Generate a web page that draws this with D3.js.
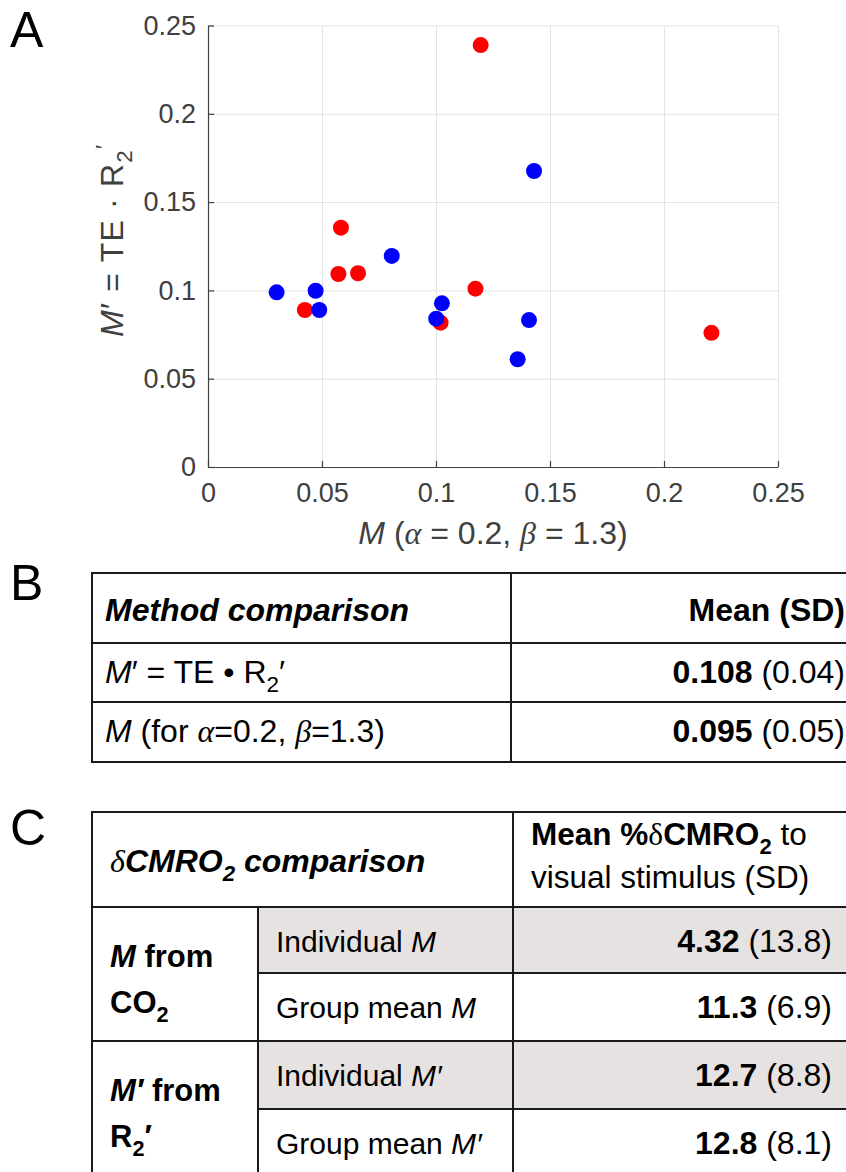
<!DOCTYPE html>
<html>
<head>
<meta charset="utf-8">
<script src="https://cdn.jsdelivr.net/npm/d3@7"></script>
<style>
  body { margin: 0; background: #fff; }
  svg { display: block; font-family: "Liberation Sans", Arial, Helvetica, sans-serif; }
  .grid line { stroke: #e3e3e3; stroke-width: 1; }
  .grid path { display: none; }
  .axis path, .axis line { stroke: #404040; stroke-width: 1.2; }
  .axis text { fill: #404040; font-size: 27px; }
  .tbl line { stroke: #1a1a1a; stroke-width: 2; }
</style>
</head>
<body>
<svg width="846" height="1172"></svg>
<script>
// scatter data, panel A
const mRed = [0.0425, 0.0572, 0.0583, 0.0658, 0.1020, 0.1173, 0.1196, 0.2208]
const mPrimeRed = [0.0889, 0.1093, 0.1355, 0.1097, 0.0817, 0.1010, 0.2389, 0.0760]
const mBlue = [0.0301, 0.0472, 0.0488, 0.0806, 0.1001, 0.1026, 0.1358, 0.1408, 0.1430]
const mPrimeBlue = [0.0989, 0.0998, 0.0889, 0.1195, 0.0840, 0.0927, 0.0610, 0.0832, 0.1676]
const xTicks = [0, 0.05, 0.1, 0.15, 0.2, 0.25]
const yTicks = [0, 0.05, 0.1, 0.15, 0.2, 0.25]

// table B
const methodLabels = ["mprime", "m"]
const methodMeans = ["0.108", "0.095"]
const methodSDs = ["0.04", "0.05"]

// table C
const cmroGroups = ["co2", "r2"]
const cmroRows = ["Individual", "Group mean", "Individual", "Group mean"]
const cmroRowSymbols = ["M", "M", "M′", "M′"]
const cmroMeans = ["4.32", "11.3", "12.7", "12.8"]
const cmroSDs = ["13.8", "6.9", "8.8", "8.1"]

const svg = d3.select("svg")

// rich text helper: parts = [text, flags]
// flags: B bold, I italic, S serif, _ subscript, ^ superscript
function rich(g, x, y, size, anchor, parts, fill) {
  const t = g.append("text")
    .attr("x", x)
    .attr("y", y)
    .attr("text-anchor", anchor)
    .attr("font-size", size)
    .attr("fill", fill || "#000")
  let shift = 0
  parts.forEach(([str, f]) => {
    f = f || ""
    let target = 0
    let fs = size
    if (f.includes("_")) { target = size * 0.28; fs = size * 0.7 }
    if (f.includes("^")) { target = -size * 0.38; fs = size * 0.7 }
    const ts = t.append("tspan")
      .attr("dy", target - shift)
      .attr("font-size", fs)
      .text(str)
    shift = target
    if (f.includes("B")) ts.attr("font-weight", "bold")
    if (f.includes("I")) ts.attr("font-style", "italic")
    if (f.includes("S")) ts.attr("font-family", "'Liberation Serif', 'Times New Roman', serif")
  })
  return t
}

// ---------- panel A ----------
const plot = { left: 208, right: 778, top: 25.5, bottom: 467 }
const x = d3.scaleLinear().domain([0, 0.25]).range([plot.left, plot.right])
const y = d3.scaleLinear().domain([0, 0.25]).range([plot.bottom, plot.top])

svg.append("g")
  .attr("class", "grid")
  .attr("transform", `translate(0,${plot.bottom})`)
  .call(d3.axisBottom(x).tickValues(xTicks).tickSize(-(plot.bottom - plot.top)).tickFormat(""))

svg.append("g")
  .attr("class", "grid")
  .attr("transform", `translate(${plot.left},0)`)
  .call(d3.axisLeft(y).tickValues(yTicks).tickSize(-(plot.right - plot.left)).tickFormat(""))

svg.append("g")
  .attr("class", "axis")
  .attr("transform", `translate(0,${plot.bottom})`)
  .call(d3.axisBottom(x).tickValues(xTicks).tickSizeInner(-6).tickSizeOuter(0).tickPadding(16).tickFormat(d => String(d)))

svg.append("g")
  .attr("class", "axis")
  .attr("transform", `translate(${plot.left},0)`)
  .call(d3.axisLeft(y).tickValues(yTicks).tickSizeInner(-6).tickSizeOuter(0).tickPadding(12).tickFormat(d => String(d)))

svg.selectAll(".axis .domain").attr("stroke", "#404040")

svg.append("g")
  .selectAll("circle")
  .data(mRed)
  .enter()
  .append("circle")
  .attr("cx", d => x(d))
  .attr("cy", (d, i) => y(mPrimeRed[i]))
  .attr("r", 8)
  .attr("fill", "#ff0000")

svg.append("g")
  .selectAll("circle")
  .data(mBlue)
  .enter()
  .append("circle")
  .attr("cx", d => x(d))
  .attr("cy", (d, i) => y(mPrimeBlue[i]))
  .attr("r", 8)
  .attr("fill", "#0000ff")

// axis labels
rich(svg, (plot.left + plot.right) / 2, 544, 32, "middle",
  [["M", "I"], [" (", ""], ["α", "SI"], [" = 0.2, ", ""], ["β", "SI"], [" = 1.3)", ""]], "#404040")

const yl = svg.append("g").attr("transform", `translate(123,${(plot.top + plot.bottom) / 2 - 6}) rotate(-90)`)
rich(yl, 0, 0, 32, "middle",
  [["M", "I"], ["′ = TE · R", ""], ["2", "_"], ["′", "^"]], "#404040")
  .attr("letter-spacing", 1.2)

// panel letters
rich(svg, 10, 47, 50, "start", [["A", ""]])
rich(svg, 10, 600, 50, "start", [["B", ""]])
rich(svg, 10, 845, 50, "start", [["C", ""]])

// ---------- panel B ----------
const tb = { left: 92, mid: 511, right: 868, rows: [573, 643, 702, 762] }
const gB = svg.append("g").attr("class", "tbl")
const bLines = tb.rows.map(r => [tb.left, r, tb.right, r])
  .concat([[tb.left, tb.rows[0], tb.left, tb.rows[3]], [tb.mid, tb.rows[0], tb.mid, tb.rows[3]]])
gB.selectAll("line")
  .data(bLines)
  .enter()
  .append("line")
  .attr("x1", d => d[0]).attr("y1", d => d[1])
  .attr("x2", d => d[2]).attr("y2", d => d[3])
  .attr("stroke-linecap", "square")

const fsB = 32
rich(gB, 105, 621, fsB, "start", [["Method comparison", "BI"]])
rich(gB, 845, 621, fsB, "end", [["Mean (SD)", "B"]])

const methodParts = {
  mprime: [["M", "I"], ["′ = TE • R", ""], ["2", "_"], ["′", ""]],
  m: [["M", "I"], [" (for ", ""], ["α", "SI"], ["=0.2, ", ""], ["β", "SI"], ["=1.3)", ""]]
}
methodLabels.forEach((k, i) => {
  const base = tb.rows[i + 1] + 40
  rich(gB, 105, base, fsB, "start", methodParts[k])
  rich(gB, 845, base, fsB, "end", [[methodMeans[i], "B"], [" (" + methodSDs[i] + ")", ""]])
})

// ---------- panel C ----------
const tc = { left: 92, sub: 258, mid: 513, right: 852, rows: [812, 907, 973, 1041, 1109, 1177] }
const gC = svg.append("g").attr("class", "tbl")

// shaded "Individual" rows
gC.selectAll("rect")
  .data(cmroRows.map((d, i) => i).filter(i => cmroRows[i] === "Individual"))
  .enter()
  .append("rect")
  .attr("x", tc.sub)
  .attr("y", i => tc.rows[i + 1])
  .attr("width", tc.right - tc.sub)
  .attr("height", i => tc.rows[i + 2] - tc.rows[i + 1])
  .attr("fill", "#e7e2e2")

const cLines = [
  [tc.left, tc.rows[0], tc.right, tc.rows[0]],
  [tc.left, tc.rows[1], tc.right, tc.rows[1]],
  [tc.sub, tc.rows[2], tc.right, tc.rows[2]],
  [tc.left, tc.rows[3], tc.right, tc.rows[3]],
  [tc.sub, tc.rows[4], tc.right, tc.rows[4]],
  [tc.left, tc.rows[0], tc.left, tc.rows[5]],
  [tc.sub, tc.rows[1], tc.sub, tc.rows[5]],
  [tc.mid, tc.rows[0], tc.mid, tc.rows[5]]
]
gC.selectAll("line")
  .data(cLines)
  .enter()
  .append("line")
  .attr("x1", d => d[0]).attr("y1", d => d[1])
  .attr("x2", d => d[2]).attr("y2", d => d[3])
  .attr("stroke-linecap", "square")

rich(gC, 110, 872, 32, "start", [["δ", "SI"], ["CMRO", "BI"], ["2", "BI_"], [" comparison", "BI"]])
rich(gC, 531, 845, 31.5, "start", [["Mean %", "B"], ["δ", "S"], ["CMRO", "B"], ["2", "B_"], [" to", ""]])
rich(gC, 531, 888, 31.5, "start", [["visual stimulus (SD)", ""]])

const groupParts = {
  co2: [[["M", "BI"], [" from", "B"]], [["CO", "B"], ["2", "B_"]]],
  r2: [[["M′", "BI"], [" from", "B"]], [["R", "B"], ["2", "B_"], ["′", "B"]]]
}
cmroGroups.forEach((k, i) => {
  const top = tc.rows[1 + i * 2]
  rich(gC, 110, top + 60, 31, "start", groupParts[k][0])
  rich(gC, 110, top + 106, 31, "start", groupParts[k][1])
})

cmroRows.forEach((lbl, i) => {
  const base = tc.rows[i + 1] + 45
  rich(gC, 276, base, 30, "start", [[lbl + " ", ""], [cmroRowSymbols[i], "I"]])
  rich(gC, 832, base, 32, "end", [[cmroMeans[i], "B"], [" (" + cmroSDs[i] + ")", ""]])
})
</script>
</body>
</html>
